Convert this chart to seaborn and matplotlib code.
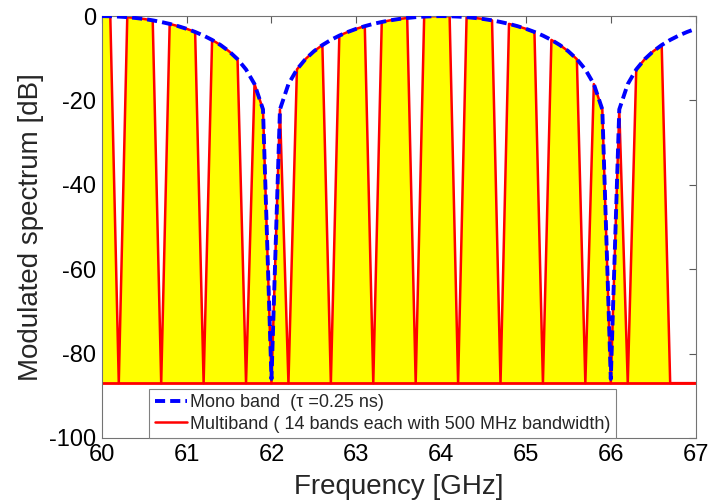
import numpy as np
import matplotlib
matplotlib.use('Agg')
import matplotlib.pyplot as plt
import seaborn as sns

# frequency grid of the curves, GHz (0.1 GHz steps)
freq = [60.0, 60.1, 60.2, 60.3, 60.4, 60.5, 60.6, 60.7, 60.8, 60.9,
        61.0, 61.1, 61.2, 61.3, 61.4, 61.5, 61.6, 61.7, 61.8, 61.9,
        62.0, 62.1, 62.2, 62.3, 62.4, 62.5, 62.6, 62.7, 62.8, 62.9,
        63.0, 63.1, 63.2, 63.3, 63.4, 63.5, 63.6, 63.7, 63.8, 63.9,
        64.0, 64.1, 64.2, 64.3, 64.4, 64.5, 64.6, 64.7, 64.8, 64.9,
        65.0, 65.1, 65.2, 65.3, 65.4, 65.5, 65.6, 65.7, 65.8, 65.9,
        66.0, 66.1, 66.2, 66.3, 66.4, 66.5, 66.6, 66.7, 66.8, 66.9,
        67.0]

# mono band envelope, dB
mono_db = [0.0, -0.03, -0.11, -0.24, -0.44, -0.69, -1.0, -1.39, -1.84, -2.38,
           -3.01, -3.75, -4.62, -5.64, -6.86, -8.34, -10.2, -12.64, -16.11, -22.11,
           -86.0, -22.11, -16.11, -12.64, -10.2, -8.34, -6.86, -5.64, -4.62, -3.75,
           -3.01, -2.38, -1.84, -1.39, -1.0, -0.69, -0.44, -0.24, -0.11, -0.03,
           0.0, -0.03, -0.11, -0.24, -0.44, -0.69, -1.0, -1.39, -1.84, -2.38,
           -3.01, -3.75, -4.62, -5.64, -6.86, -8.34, -10.2, -12.64, -16.11, -22.11,
           -86.0, -22.11, -16.11, -12.64, -10.2, -8.34, -6.86, -5.64, -4.62, -3.75,
           -3.01]

# frequencies between the 14 bands where the multiband spectrum sits on the floor
gap_freq = [60.2, 60.7, 61.2, 61.7, 62.0, 62.2, 62.7, 63.2, 63.7, 64.2, 64.7,
            65.2, 65.7, 66.0, 66.2, 66.7, 66.8, 66.9, 67.0]
floor_db = -87.0

freq = np.array(freq)
mono_db = np.array(mono_db)
in_gap = np.isin(np.round(freq, 1), np.round(gap_freq, 1))
multi_db = np.where(in_gap, floor_db, mono_db)

sns.set_style('white')
plt.rcParams['font.family'] = ['Liberation Sans', 'DejaVu Sans']
plt.rcParams['axes.unicode_minus'] = False

fig = plt.figure(figsize=(7.12, 5.04), dpi=100)
ax = fig.add_axes([0.143, 0.131, 0.834, 0.837])

ax.fill_between(freq, multi_db, floor_db, color='yellow', linewidth=0, zorder=1)
ax.axhline(floor_db, color='red', linewidth=2.0, zorder=2)
sns.lineplot(x=freq, y=multi_db, ax=ax, color='red', linewidth=1.8,
             sort=False, estimator=None, zorder=2,
             label='Multiband ( 14 bands each with 500 MHz bandwidth)')
sns.lineplot(x=freq, y=mono_db, ax=ax, color='blue', linewidth=2.8,
             sort=False, estimator=None, zorder=3,
             label='Mono band  (\u03c4 =0.25 ns)')
ax.lines[-1].set_dashes((2.6, 1.3))

ax.set_xlim(60, 67)
ax.set_ylim(-100, 0)
ax.set_xticks(range(60, 68))
ax.set_yticks(range(-100, 1, 20))
ax.tick_params(direction='in', length=5, width=0.8, top=True, right=True,
               labelsize=17, colors='0.35', labelcolor='black', pad=4)
for sp in ax.spines.values():
    sp.set_color('0.45')
    sp.set_linewidth(0.8)

ax.set_xlabel('Frequency [GHz]', fontsize=20, labelpad=6)
ax.set_ylabel('Modulated spectrum [dB]', fontsize=20, labelpad=4)

handles, labels = ax.get_legend_handles_labels()
leg = ax.legend(handles[::-1], labels[::-1], loc='lower left',
                bbox_to_anchor=(0.08, 0.0), borderaxespad=0, fontsize=13,
                handlelength=1.8, handletextpad=0.15, labelspacing=0.25,
                borderpad=0.3, fancybox=False, framealpha=1, edgecolor='0.5')
leg.get_frame().set_linewidth(0.8)

fig.savefig('out.png', dpi=100)
